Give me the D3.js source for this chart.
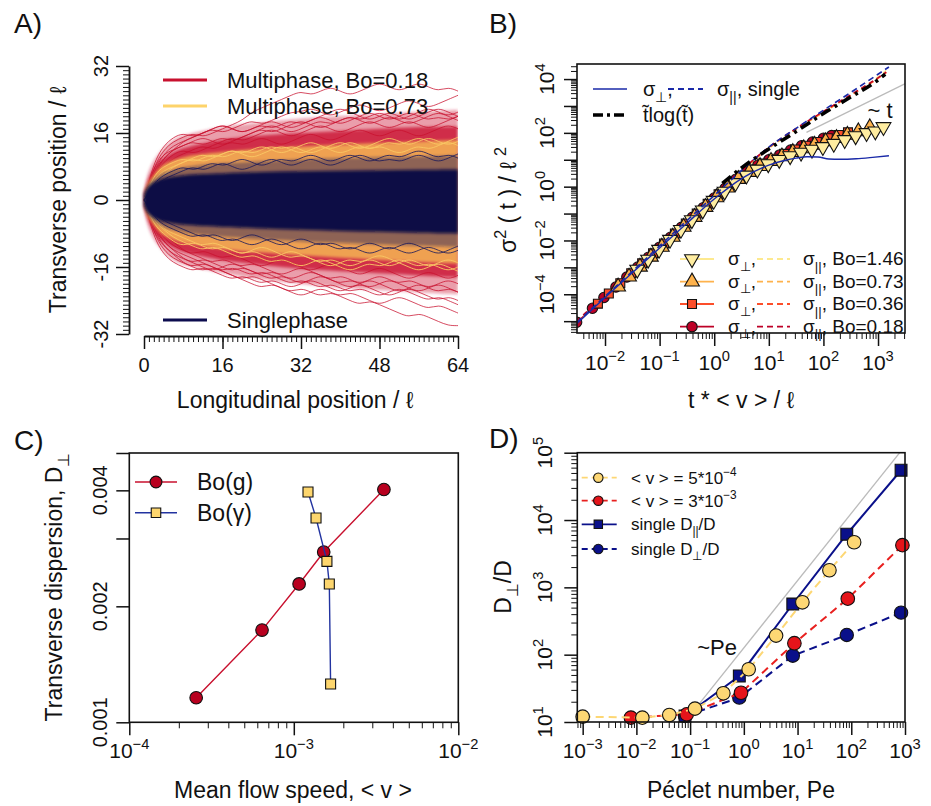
<!DOCTYPE html>
<html>
<head>
<meta charset="utf-8">
<script src="https://cdn.jsdelivr.net/npm/d3@7"></script>
<style>
  body { margin: 0; background: #fff; }
  svg { font-family: "Liberation Sans", Arial, Helvetica, sans-serif; }
</style>
</head>
<body>
<svg id="fig" width="931" height="806"></svg>
<script>
// ---------------- Panel A: trajectories (envelopes + outlier traces) -----
const xsA = [0, 0.5, 1, 2, 3, 4, 6, 8, 12, 16, 24, 32, 40, 48, 56, 64];
const redOuterUp = [2, 5, 7, 9.5, 11, 12.5, 14.5, 15.5, 16.5, 17.5, 18.5, 19.5, 20, 20.5, 21, 21.5];
const redOuterLo = [-2, -5, -7, -9.5, -11, -12.5, -14.5, -15.5, -16.5, -17.5, -19, -20, -21, -21.5, -22, -22.5];
const redDenseUp = [1.8, 4, 5.5, 7.5, 9, 10, 11.5, 12.5, 13.5, 14.5, 15.5, 16, 16.5, 17, 17.5, 17.5];
const redDenseLo = [-1.8, -4, -5.5, -7.5, -9, -10, -11.5, -12.5, -13.5, -14.5, -15.5, -16.5, -17, -17.5, -18, -18.5];
const yelUp = [1.6, 3.5, 4.5, 6, 7.5, 8.5, 9.5, 10.3, 11, 11.5, 12.3, 12.8, 13.2, 13.6, 14, 14.3];
const yelLo = [-1.6, -3.5, -4.5, -6, -7.5, -8.5, -9.5, -10.3, -11, -11.8, -12.6, -13.2, -13.8, -14.3, -14.8, -15.2];
const navyHazeUp = [1.5, 3, 3.8, 5, 5.8, 6.5, 7.2, 7.8, 8.4, 8.8, 9.3, 9.7, 10, 10.2, 10.4, 10.6];
const navyHazeLo = [-1.5, -3, -3.8, -5, -5.8, -6.5, -7.2, -7.8, -8.4, -8.8, -9.4, -9.9, -10.3, -10.6, -10.9, -11.2];
const navyCoreUp = [1.2, 2.6, 3.3, 4.2, 4.8, 5.2, 5.6, 5.9, 6.2, 6.4, 6.7, 6.9, 7, 7.1, 7.2, 7.3];
const navyCoreLo = [-1.2, -2.6, -3.3, -4.2, -4.8, -5.2, -5.6, -5.9, -6.2, -6.4, -6.8, -7.1, -7.4, -7.6, -7.8, -8];

const xsTrace = [0,2,4,6,8,10,12,14,16,18,20,22,24,26,28,30,32,34,36,38,40,42,44,46,48,50,52,54,56,58,60,62,64];
const redTraces = [
  [0,8,12,14,15,16,15,16,17,18,19,21,22,23,24,25,26,25,26,27,26,25,26,27,28,27,26,27,28,27,26,27,26],
  [0,7,11,13,14,15,16,17,16,17,18,19,18,19,20,21,21,22,21,20,21,22,23,22,21,22,23,24,23,22,23,24,25],
  [0,9,13,15,16,15,16,17,18,17,16,17,18,19,18,17,18,19,20,21,22,21,20,19,20,21,20,19,20,21,22,21,20],
  [0,6,10,12,13,14,13,14,15,14,15,16,17,16,17,18,19,18,17,18,19,20,19,20,21,20,19,20,21,22,21,20,21],
  [0,8,11,12,13,14,15,14,13,14,15,16,17,18,17,16,17,18,19,18,19,20,19,18,19,20,19,18,19,20,21,20,19],
  [0,7,10,12,14,15,16,17,18,17,16,17,18,17,18,19,18,19,20,19,18,19,20,21,20,19,20,21,20,19,20,19,20],
  [0,5,8,10,11,12,13,12,13,14,13,14,15,14,13,14,15,16,15,14,15,16,17,16,15,16,17,16,15,16,17,18,17],
  [0,6,9,11,12,11,12,13,14,15,14,15,16,17,16,15,16,17,18,17,16,17,18,19,18,17,18,19,18,17,18,19,20],
  [0,-8,-12,-14,-15,-16,-17,-16,-17,-18,-19,-18,-19,-20,-21,-22,-21,-22,-23,-22,-23,-24,-25,-24,-25,-26,-27,-28,-27,-28,-29,-30,-30],
  [0,-7,-11,-13,-15,-16,-15,-16,-17,-18,-19,-20,-21,-20,-21,-22,-23,-22,-21,-22,-23,-22,-23,-24,-25,-24,-23,-24,-25,-26,-25,-26,-27],
  [0,-9,-13,-15,-16,-17,-16,-17,-18,-19,-18,-19,-20,-19,-20,-21,-20,-19,-20,-21,-22,-21,-20,-21,-22,-23,-22,-21,-22,-23,-24,-23,-24],
  [0,-6,-10,-12,-14,-15,-14,-15,-16,-17,-16,-17,-18,-19,-18,-19,-20,-19,-18,-19,-20,-21,-20,-19,-20,-21,-22,-21,-20,-21,-22,-21,-22],
  [0,-8,-11,-13,-14,-15,-16,-17,-16,-15,-16,-17,-18,-17,-18,-19,-18,-17,-18,-19,-20,-19,-20,-21,-20,-19,-20,-21,-22,-21,-20,-21,-22],
  [0,-7,-10,-12,-13,-14,-15,-16,-17,-16,-17,-18,-17,-18,-19,-20,-19,-20,-21,-20,-21,-22,-21,-22,-23,-22,-21,-22,-23,-24,-23,-24,-25],
  [0,-5,-8,-10,-12,-13,-12,-13,-14,-13,-14,-15,-16,-15,-14,-15,-16,-17,-16,-15,-16,-17,-18,-17,-16,-17,-18,-19,-18,-17,-18,-19,-18],
  [0,-6,-9,-11,-12,-13,-14,-15,-14,-15,-16,-15,-16,-17,-18,-17,-16,-17,-18,-19,-18,-19,-20,-19,-18,-19,-20,-19,-20,-21,-20,-19,-20]
];
const yelTraces = [
  [0,6,8,9,10,9,10,11,10,11,12,11,12,13,12,13,12,11,12,13,14,13,12,13,14,15,14,13,14,15,14,13,14],
  [0,-6,-8,-10,-11,-10,-11,-12,-11,-12,-13,-12,-13,-14,-13,-12,-13,-14,-15,-14,-15,-16,-15,-14,-15,-16,-15,-14,-15,-16,-15,-14,-15],
  [0,5,7,8,9,10,11,10,11,12,11,12,13,12,11,12,13,14,13,12,13,14,13,12,13,14,13,14,15,14,13,14,15],
  [0,-5,-7,-9,-10,-11,-12,-11,-12,-13,-14,-13,-14,-15,-14,-15,-16,-15,-14,-15,-16,-17,-16,-15,-16,-15,-14,-15,-16,-15,-16,-17,-16],
  [0,4,6,8,9,10,9,10,11,12,11,10,11,12,13,12,11,12,13,12,11,12,13,12,13,12,11,12,13,12,13,14,13],
  [0,-4,-7,-8,-9,-10,-11,-10,-11,-12,-13,-12,-11,-12,-13,-14,-13,-14,-15,-16,-15,-14,-15,-14,-13,-14,-15,-16,-17,-16,-15,-16,-17]
];
const navyTraces = [
  [0,4,6,7,8,7,8,9,8,9,10,9,8,9,10,9,10,11,10,9,10,11,10,9,10,11,10,11,12,11,10,11,10],
  [0,-4,-6,-7,-8,-9,-8,-9,-10,-9,-10,-11,-10,-9,-10,-11,-12,-11,-10,-11,-12,-11,-12,-13,-12,-11,-12,-13,-12,-11,-12,-13,-12],
  [0,3,5,6,7,8,7,8,9,8,7,8,9,10,9,8,9,10,9,8,9,10,11,10,9,10,9,10,11,10,9,10,11],
  [0,-3,-5,-6,-7,-8,-9,-8,-9,-10,-9,-8,-9,-10,-11,-10,-9,-10,-11,-10,-11,-12,-11,-10,-11,-12,-11,-10,-11,-12,-13,-12,-11]
];

// ---------------- Panel B: sigma^2 vs t (log10 values) ----------------
const tB018 = [-2.52,-2.23,-2.02,-1.8,-1.6,-1.4,-1.2,-1.0,-0.8,-0.6,-0.4,-0.2,0.0,0.2,0.4,0.6,0.8,1.0,1.2,1.4,1.6,1.8,2.0,2.15];
const perp018 = [-5.04,-4.52,-4.12,-3.73,-3.36,-2.99,-2.62,-2.25,-1.88,-1.51,-1.14,-0.78,-0.42,-0.06,0.28,0.56,0.8,1.0,1.18,1.36,1.52,1.66,1.8,1.9];
const tB036 = [-2.13,-1.93,-1.72,-1.52,-1.32,-1.12,-0.92,-0.72,-0.52,-0.32,-0.12,0.08,0.28,0.48,0.68,0.88,1.08,1.28,1.48,1.68,1.88,2.08,2.28,2.45];
const perp036 = [-4.35,-3.97,-3.59,-3.22,-2.85,-2.48,-2.11,-1.74,-1.37,-1.0,-0.64,-0.28,0.06,0.38,0.64,0.86,1.04,1.22,1.38,1.52,1.66,1.8,1.92,2.02];
const tB073 = [-1.76,-1.56,-1.36,-1.16,-0.96,-0.76,-0.56,-0.36,-0.16,0.04,0.24,0.44,0.64,0.84,1.04,1.24,1.44,1.64,1.84,2.04,2.24,2.44,2.64,2.85];
const perp073 = [-3.72,-3.35,-2.98,-2.61,-2.24,-1.87,-1.5,-1.13,-0.76,-0.4,-0.04,0.28,0.54,0.76,0.95,1.12,1.28,1.42,1.55,1.68,1.8,1.92,2.05,2.2];
const tB146 = [-1.41,-1.21,-1.01,-0.81,-0.61,-0.41,-0.21,-0.01,0.19,0.39,0.59,0.79,0.99,1.19,1.39,1.59,1.79,1.99,2.19,2.39,2.59,2.79,2.95,3.1];
const perp146 = [-3.08,-2.71,-2.34,-1.97,-1.6,-1.24,-0.88,-0.52,-0.18,0.14,0.42,0.64,0.84,1.0,1.14,1.27,1.38,1.48,1.6,1.74,1.88,2.0,2.06,2.22];

const tParB = [-2.52,-2,-1.5,-1,-0.5,0,0.5,1,1.5,2,2.5,3,3.15];
const par018 = [-5.0,-4.02,-3.08,-2.14,-1.2,-0.28,0.62,1.47,2.17,2.8,3.42,4.05,4.26];
const par036 = [-5.0,-4.03,-3.1,-2.16,-1.22,-0.3,0.6,1.45,2.15,2.78,3.4,4.03,4.25];
const par073 = [-5.02,-4.05,-3.12,-2.18,-1.24,-0.32,0.58,1.43,2.13,2.76,3.38,4.02,4.24];
const par146 = [-5.04,-4.07,-3.14,-2.2,-1.26,-0.34,0.56,1.42,2.12,2.77,3.4,4.08,4.32];

const tSingleB = [-2.52,-2,-1.5,-1,-0.5,0,0.5,1,1.3,1.5,1.7,1.9,2.1,2.3,2.6,2.9,3.2];
const perpSingle = [-5.1,-4.12,-3.2,-2.28,-1.36,-0.46,0.3,0.8,0.98,1.06,1.11,1.1,1.03,1.02,1.04,1.09,1.15];
const tParSingle = [-2.52,-2,-1.5,-1,-0.5,0,0.5,1,1.5,2,2.5,3,3.2];
const parSingle = [-5.05,-4.08,-3.15,-2.2,-1.26,-0.33,0.6,1.47,2.17,2.84,3.5,4.18,4.45];

const tTlog = [0.15,0.5,1,1.5,2,2.5,3,3.13];
const vTlog = [0.12,0.7,1.4,2.05,2.72,3.33,3.97,4.18];
const tGuideB = [1.69, 3.5];
const vGuideB = [2.02, 3.83];

// ---------------- Panel C ----------------
const vBoG = [2.55e-4, 6.41e-4, 1.077e-3, 1.52e-3, 3.53e-3];
const dBoG = [1.158e-3, 1.735e-3, 2.286e-3, 2.767e-3, 4.02e-3];
const vBoGam = [1.22e-3, 1.365e-3, 1.59e-3, 1.644e-3, 1.674e-3];
const dBoGam = [3.96e-3, 3.39e-3, 2.617e-3, 2.286e-3, 1.257e-3];

// ---------------- Panel D ----------------
const peYel = [0.001, 0.0129, 0.041, 0.123, 0.415, 1.23, 3.98, 12.3, 39.2, 113];
const dYel = [12.0, 11.6, 12.7, 15.8, 26.7, 60.7, 192, 600, 1795, 4680];
const peRed = [0.0079, 0.0865, 0.887, 8.73, 86.1, 895];
const dRed = [11.6, 13.0, 27.2, 148, 679, 4230];
const peSingle = [0.0804, 0.824, 8.15, 82.4, 845];
const dParSingle = [12.3, 48.3, 566, 6150, 54900];
const dPerpSingle = [12.3, 23, 96.6, 196, 421];
const peGuide = [0.133, 900];
const dGuide = [16.8, 113000];

// ---------------- helpers ----------------
const svg = d3.select('#fig');
const defs = svg.append('defs');
function clip(id, x, y, w, h) {
  defs.append('clipPath').attr('id', id).append('rect').attr('x', x).attr('y', y).attr('width', w).attr('height', h);
}
defs.append('filter').attr('id', 'soft').attr('x', '-5%').attr('y', '-5%').attr('width', '110%').attr('height', '110%')
  .append('feGaussianBlur').attr('stdDeviation', 1.6);

function rich(x, y, parts, size, anchor, rot) {
  const t = svg.append('text')
    .attr('transform', `translate(${x},${y})` + (rot ? ' rotate(-90)' : ''))
    .attr('text-anchor', anchor || 'start')
    .attr('font-size', size)
    .attr('fill', '#111');
  let cur = 0;
  parts.forEach(p => {
    const [s, kind] = Array.isArray(p) ? p : [p, null];
    const target = kind === 'sup' ? -0.45 * size : kind === 'sub' ? 0.3 * size : 0;
    t.append('tspan').attr('dy', target - cur).attr('font-size', kind ? size * 0.7 : size).text(s);
    cur = target;
  });
  return t;
}
function powLabel(x, y, e, rot) {
  rich(x, y, ['10', [e < 0 ? '\u2212' + (-e) : String(e), 'sup']], 21, 'middle', rot);
}

function logMinor(lo, hi, dom) {
  const v = [];
  for (let e = lo; e < hi; e++) for (let k = 2; k <= 9; k++) v.push(k * 10 ** e);
  return v.filter(d => d >= dom[0] && d <= dom[1]);
}

function axis(orient, scale, major, minor, tx, ty, keepDomain) {
  const mk = (vals, len) => (orient === 'left' ? d3.axisLeft(scale) : d3.axisBottom(scale))
    .tickValues(vals).tickSize(len).tickSizeOuter(0).tickFormat('');
  const g = svg.append('g').attr('transform', `translate(${tx},${ty})`);
  const gmin = g.append('g').call(mk(minor, 6));
  gmin.select('.domain').remove();
  gmin.selectAll('line').attr('stroke', '#111').attr('stroke-width', 1);
  const gmaj = g.append('g').call(mk(major, 13));
  if (!keepDomain) gmaj.select('.domain').remove();
  gmaj.select('.domain').attr('stroke', '#111').attr('stroke-width', 1.8);
  gmaj.selectAll('line').attr('stroke', '#111').attr('stroke-width', 1.5);
}

function box(x0, y0, x1, y1) {
  svg.append('rect').attr('x', x0).attr('y', y0).attr('width', x1 - x0).attr('height', y1 - y0)
    .attr('fill', 'none').attr('stroke', '#111').attr('stroke-width', 1.6);
}

function symPath(type, size) {
  const t = { circle: d3.symbolCircle, square: d3.symbolSquare, up: d3.symbolTriangle, down: d3.symbolTriangle }[type];
  return d3.symbol().type(t).size(size)();
}
function marker(g, x, y, type, size, fill) {
  g.append('path').attr('d', symPath(type, size))
    .attr('transform', `translate(${x},${y})` + (type === 'down' ? ' rotate(180)' : ''))
    .attr('fill', fill).attr('stroke', '#111').attr('stroke-width', 1.1);
}

// ================= Panel A =================
const xA = d3.scaleLinear().domain([0, 64]).range([144, 458]);
const yA = d3.scaleLinear().domain([-32, 32]).range([334, 66]);
clip('clipA', 130, 62, 328, 274);
const gA = svg.append('g').attr('clip-path', 'url(#clipA)');
const bandA = (up, lo) => d3.area().x((d, i) => xA(xsA[i])).y0((d, i) => yA(lo[i])).y1(d => yA(d)).curve(d3.curveBasis)(up);
const traceA = d3.line().x((d, i) => xA(xsTrace[i])).y(d => yA(d)).curve(d3.curveBasis);
const drawTraces = (list, col, op) => list.forEach(tr => gA.append('path').attr('d', traceA(tr))
  .attr('fill', 'none').attr('stroke', col).attr('stroke-opacity', op).attr('stroke-width', 1));

const soft = gA.append('g').attr('filter', 'url(#soft)');
soft.append('path').attr('d', bandA(redOuterUp, redOuterLo)).attr('fill', '#cc1535').attr('opacity', 0.42);
soft.append('path').attr('d', bandA(redDenseUp, redDenseLo)).attr('fill', '#c8102e').attr('opacity', 0.78);
drawTraces(redTraces, '#c8102e', 0.75);
const soft2 = gA.append('g').attr('filter', 'url(#soft)');
soft2.append('path').attr('d', bandA(yelUp, yelLo)).attr('fill', '#f4b252').attr('opacity', 0.88);
drawTraces(yelTraces, '#f9c864', 0.9);
const soft3 = gA.append('g').attr('filter', 'url(#soft)');
soft3.append('path').attr('d', bandA(navyHazeUp, navyHazeLo)).attr('fill', '#1c1c5c').attr('opacity', 0.45);
drawTraces(navyTraces, '#18185a', 0.8);
gA.append('path').attr('d', bandA(navyCoreUp, navyCoreLo)).attr('fill', '#0a0a45').attr('filter', 'url(#soft)');

axis('left', yA, [-32, -16, 0, 16, 32], d3.range(-32, 33), 129, 0, true);
axis('bottom', xA, [0, 16, 32, 48, 64], d3.range(0, 65), 0, 336, true);
[-32, -16, 0, 16, 32].forEach(v => rich(108, yA(v), [String(v)], 20, 'middle', true));
[0, 16, 32, 48, 64].forEach(v => rich(xA(v), 372, [String(v)], 20, 'middle'));
rich(295, 408, ['Longitudinal position / \u2113'], 23, 'middle');
rich(66, 200, ['Transverse position / \u2113'], 23, 'middle', true);

const legA = [
  { y: 80, col: '#c8102e', label: 'Multiphase, Bo=0.18' },
  { y: 106, col: '#fdd36a', label: 'Multiphase, Bo=0.73' },
  { y: 320, col: '#0c0c4e', label: 'Singlephase' }
];
legA.forEach(d => {
  svg.append('line').attr('x1', 163).attr('x2', 207).attr('y1', d.y).attr('y2', d.y)
    .attr('stroke', d.col).attr('stroke-width', 3);
  rich(227, d.y + 8, [d.label], 22, 'start');
});

// ================= Panel B =================
const xB = d3.scaleLog().domain([10 ** -2.513, 10 ** 3.494]).range([577, 905]);
const yB = d3.scaleLog().domain([10 ** -5.44, 10 ** 4.56]).range([333, 64]);
clip('clipB', 577, 64, 328, 269);
const gB = svg.append('g').attr('clip-path', 'url(#clipB)');
const lineB = (ts, vs) => d3.line().x((d, i) => xB(10 ** ts[i])).y(d => yB(10 ** d)).curve(d3.curveMonotoneX)(vs);

const boSeries = [
  { bo: '1.46', fill: '#ffeda0', line: '#fde98f', sym: 'down', size: 95, t: tB146, perp: perp146, par: par146 },
  { bo: '0.73', fill: '#feb24c', line: '#feb24c', sym: 'up', size: 95, t: tB073, perp: perp073, par: par073 },
  { bo: '0.36', fill: '#fc4e2a', line: '#fc4e2a', sym: 'square', size: 80, t: tB036, perp: perp036, par: par036 },
  { bo: '0.18', fill: '#bd0026', line: '#bd0026', sym: 'circle', size: 85, t: tB018, perp: perp018, par: par018 }
];

gB.append('path').attr('d', lineB(tGuideB, vGuideB)).attr('fill', 'none').attr('stroke', '#bbbbbb').attr('stroke-width', 1.3);
boSeries.forEach(s => gB.append('path').attr('d', lineB(s.t, s.perp)).attr('fill', 'none')
  .attr('stroke', s.line).attr('stroke-width', 1.2));
boSeries.forEach(s => gB.append('path').attr('d', lineB(tParB, s.par)).attr('fill', 'none')
  .attr('stroke', s.line).attr('stroke-width', 1.4).attr('stroke-dasharray', '5,4'));
boSeries.slice().reverse().forEach(s => s.t.forEach((t, i) =>
  marker(gB, xB(10 ** t), yB(10 ** s.perp[i]), s.sym, s.size, s.fill)));
gB.append('path').attr('d', lineB(tSingleB, perpSingle)).attr('fill', 'none').attr('stroke', '#1a2aa8').attr('stroke-width', 1.4);
gB.append('path').attr('d', lineB(tParSingle, parSingle)).attr('fill', 'none').attr('stroke', '#1a2aa8')
  .attr('stroke-width', 1.6).attr('stroke-dasharray', '6,4');
gB.append('path').attr('d', lineB(tTlog, vTlog)).attr('fill', 'none').attr('stroke', '#000')
  .attr('stroke-width', 3.6).attr('stroke-dasharray', '11,5,3,5');

box(577, 64, 905, 333);
const domYB = yB.domain(), domXB = xB.domain();
axis('left', yB, d3.range(-5, 5).map(e => 10 ** e), logMinor(-6, 5, domYB), 577, 0, false);
axis('bottom', xB, d3.range(-2, 4).map(e => 10 ** e), logMinor(-3, 4, domXB), 0, 333, false);
[-4, -2, 0, 2, 4].forEach(e => powLabel(554, yB(10 ** e), e, true));
d3.range(-2, 4).forEach(e => powLabel(xB(10 ** e), 370, e, false));
rich(741, 408, ['t * < v > / \u2113'], 23, 'middle');
rich(516, 200, ['\u03c3', ['2', 'sup'], ' ( t ) / \u2113 ', ['2', 'sup']], 23, 'middle', true);
rich(880, 118, ['~ t'], 22, 'middle');

// legend top
svg.append('line').attr('x1', 593).attr('x2', 627).attr('y1', 89).attr('y2', 89).attr('stroke', '#1a2aa8').attr('stroke-width', 1.6);
rich(643, 96, ['\u03c3', ['\u22a5', 'sub'], ','], 20, 'start');
svg.append('line').attr('x1', 668).attr('x2', 703).attr('y1', 89).attr('y2', 89).attr('stroke', '#1a2aa8').attr('stroke-width', 1.8).attr('stroke-dasharray', '6,4');
rich(717, 96, ['\u03c3', ['||', 'sub'], ', single'], 20, 'start');
svg.append('line').attr('x1', 593).attr('x2', 627).attr('y1', 115).attr('y2', 115).attr('stroke', '#000').attr('stroke-width', 3.4).attr('stroke-dasharray', '10,4,3,4');
rich(643, 122, ['t\u0303log(t\u0303)'], 20, 'start');

// legend bottom
const legBy = [259, 281.7, 304, 326.7];
boSeries.forEach((s, i) => {
  const y = legBy[i];
  svg.append('line').attr('x1', 680).attr('x2', 714).attr('y1', y).attr('y2', y).attr('stroke', s.line).attr('stroke-width', 1.8);
  marker(svg, 692, y, s.sym, s.size, s.fill);
  rich(728, y + 6, ['\u03c3', ['\u22a5', 'sub'], ','], 19, 'start');
  svg.append('line').attr('x1', 757).attr('x2', 790).attr('y1', y).attr('y2', y).attr('stroke', s.line).attr('stroke-width', 1.8).attr('stroke-dasharray', '6,4');
  rich(803, y + 6, ['\u03c3', ['||', 'sub'], ', Bo=' + s.bo], 19, 'start');
});

// ================= Panel C =================
const xC = d3.scaleLog().domain([1e-4, 1e-2]).range([129.3, 458.3]);
const yC = d3.scaleLog().domain([0.001, 0.005]).range([722.3, 453]);
const gC = svg.append('g');
const lineC = (xs, ys) => d3.line().x((d, i) => xC(xs[i])).y(d => yC(d))(ys);
gC.append('path').attr('d', lineC(vBoG, dBoG)).attr('fill', 'none').attr('stroke', '#c8102e').attr('stroke-width', 1.4);
vBoG.forEach((v, i) => marker(gC, xC(v), yC(dBoG[i]), 'circle', 125, '#b8001f'));
gC.append('path').attr('d', lineC(vBoGam, dBoGam)).attr('fill', 'none').attr('stroke', '#2233a0').attr('stroke-width', 1.4);
vBoGam.forEach((v, i) => marker(gC, xC(v), yC(dBoGam[i]), 'square', 100, '#fdd66e'));

box(129.3, 453, 458.3, 722.3);
axis('left', yC, [0.001, 0.002, 0.003, 0.004, 0.005], [], 129.3, 0, false);
axis('bottom', xC, [1e-4, 1e-3, 1e-2], logMinor(-4, -2, xC.domain()), 0, 722.3, false);
['0.001', '0.002', '0.004'].forEach(s => rich(107, yC(+s), [s], 20, 'middle', true));
[-4, -3, -2].forEach(e => powLabel(xC(10 ** e), 758, e, false));
rich(293, 798, ['Mean flow speed, < v >'], 23, 'middle');
rich(62, 587, ['Transverse dispersion, D', ['\u22a5', 'sub']], 23, 'middle', true);

svg.append('line').attr('x1', 135).attr('x2', 177).attr('y1', 482).attr('y2', 482).attr('stroke', '#c8102e').attr('stroke-width', 1.4);
marker(svg, 156, 482, 'circle', 110, '#b8001f');
rich(197, 490, ['Bo(g)'], 23, 'start');
svg.append('line').attr('x1', 135).attr('x2', 177).attr('y1', 512.7).attr('y2', 512.7).attr('stroke', '#2233a0').attr('stroke-width', 1.4);
marker(svg, 156, 512.7, 'square', 90, '#fdd66e');
rich(197, 521, ['Bo(\u03b3)'], 23, 'start');

// ================= Panel D =================
const xD = d3.scaleLog().domain([10 ** -3.1, 1e3]).range([577.3, 905]);
const yD = d3.scaleLog().domain([10, 1e5]).range([722, 452.7]);
clip('clipD', 577.3, 452.7, 327.7, 269.3);
const gDl = svg.append('g').attr('clip-path', 'url(#clipD)');
const gD = svg.append('g');
const lineD = (xs, ys) => d3.line().x((d, i) => xD(xs[i])).y(d => yD(d))(ys);
const navyD = '#0a108a';

gDl.append('path').attr('d', lineD(peGuide, dGuide)).attr('fill', 'none').attr('stroke', '#bbbbbb').attr('stroke-width', 1.3);
gD.append('path').attr('d', lineD(peSingle, dParSingle)).attr('fill', 'none').attr('stroke', navyD).attr('stroke-width', 2);
gD.append('path').attr('d', lineD(peSingle, dPerpSingle)).attr('fill', 'none').attr('stroke', navyD).attr('stroke-width', 2).attr('stroke-dasharray', '8,5');
peSingle.forEach((p, i) => marker(gD, xD(p), yD(dPerpSingle[i]), 'circle', 140, navyD));
peSingle.forEach((p, i) => marker(gD, xD(p), yD(dParSingle[i]), 'square', 140, navyD));
gD.append('path').attr('d', lineD(peRed, dRed)).attr('fill', 'none').attr('stroke', '#e8201f').attr('stroke-width', 2).attr('stroke-dasharray', '8,5');
peRed.forEach((p, i) => marker(gD, xD(p), yD(dRed[i]), 'circle', 145, '#e5141a'));
gD.append('path').attr('d', lineD(peYel, dYel)).attr('fill', 'none').attr('stroke', '#fdd774').attr('stroke-width', 2).attr('stroke-dasharray', '8,5');
peYel.forEach((p, i) => marker(gD, xD(p), yD(dYel[i]), 'circle', 145, '#fdd774'));

box(577.3, 452.7, 905, 722);
axis('left', yD, [10, 100, 1e3, 1e4, 1e5], logMinor(1, 5, yD.domain()), 577.3, 0, false);
axis('bottom', xD, d3.range(-3, 4).map(e => 10 ** e), logMinor(-4, 3, xD.domain()), 0, 722, false);
d3.range(1, 6).forEach(e => powLabel(552, yD(10 ** e), e, true));
d3.range(-3, 4).forEach(e => powLabel(xD(10 ** e), 758, e, false));
rich(741, 798, ['P\u00e9clet number, Pe'], 23, 'middle');
rich(511, 587, ['D', ['\u22a5', 'sub'], '/D'], 23, 'middle', true);
rich(717, 655, ['~Pe'], 22, 'middle');

const legD = [
  { y: 477.7, col: '#fdd774', fill: '#fdd774', sym: 'circle', dash: '8,5', parts: ['< v > = 5*10', ['\u22124', 'sup']] },
  { y: 500.7, col: '#e8201f', fill: '#e5141a', sym: 'circle', dash: '8,5', parts: ['< v > = 3*10', ['\u22123', 'sup']] },
  { y: 524.3, col: navyD, fill: navyD, sym: 'square', dash: null, parts: ['single D', ['||', 'sub'], '/D'] },
  { y: 549, col: navyD, fill: navyD, sym: 'circle', dash: '8,5', parts: ['single D', ['\u22a5', 'sub'], '/D'] }
];
legD.forEach(d => {
  const l = svg.append('line').attr('x1', 581.7).attr('x2', 616.7).attr('y1', d.y).attr('y2', d.y)
    .attr('stroke', d.col).attr('stroke-width', 1.8);
  if (d.dash) l.attr('stroke-dasharray', '6,4');
  marker(svg, 598.3, d.y, d.sym, 70, d.fill);
  rich(631, d.y + 6, d.parts, 17, 'start');
});

// ---------------- panel letters ----------------
[['A)', 14, 33], ['B)', 489, 33], ['C)', 14, 450], ['D)', 489, 448]].forEach(([s, x, y]) =>
  rich(x, y, [s], 28, 'start'));
</script>
</body>
</html>
